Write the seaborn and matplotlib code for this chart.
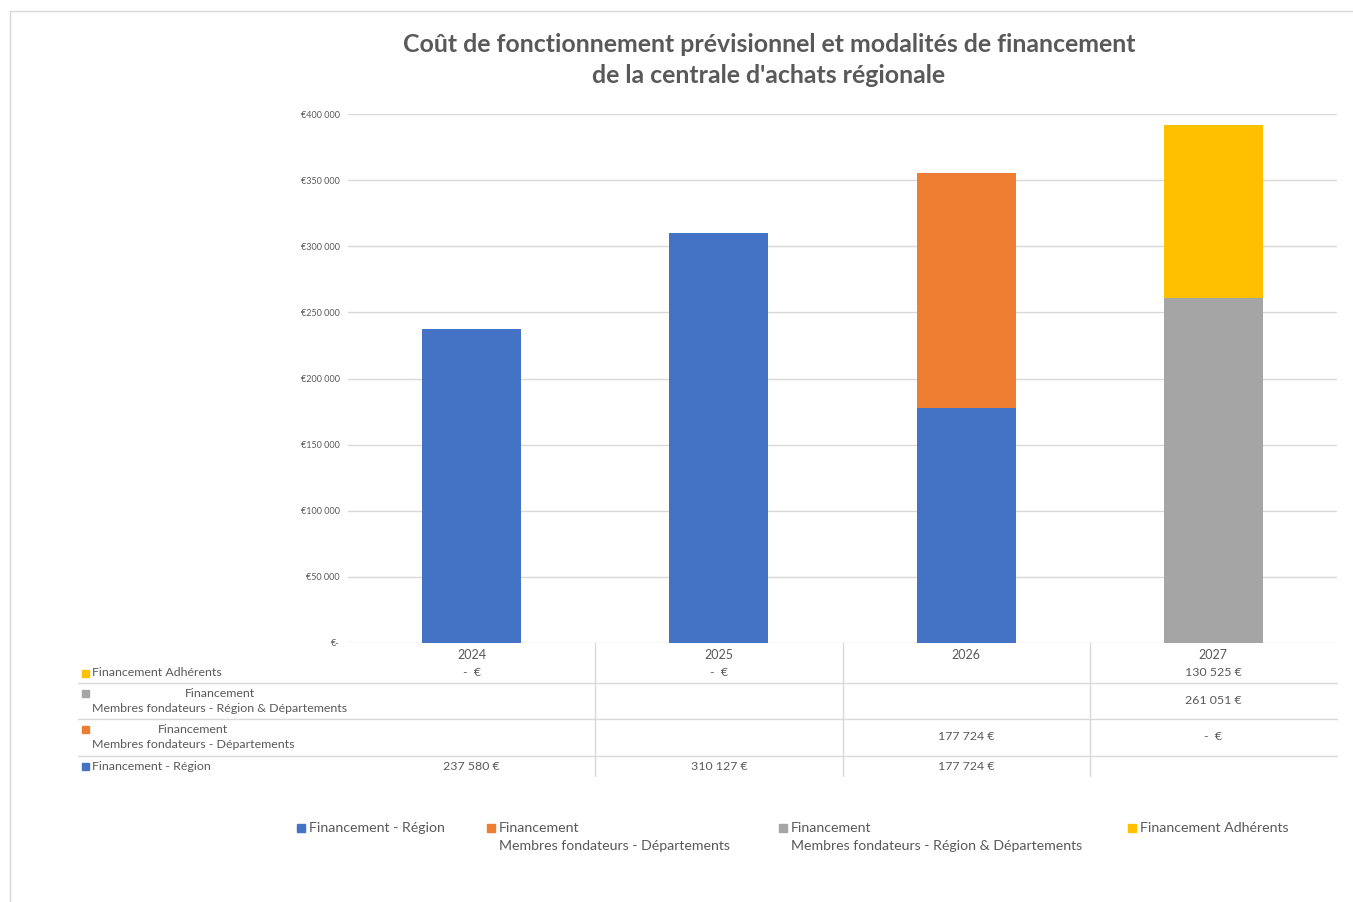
import matplotlib
matplotlib.use('Agg')
import matplotlib.pyplot as plt
import seaborn as sns
import numpy as np
import pandas as pd
from matplotlib.ticker import FuncFormatter
from matplotlib.transforms import blended_transform_factory
from matplotlib.patches import Rectangle
from matplotlib.lines import Line2D

# Data (None = empty cell in the data table, 0 = "-  €")
years = ['2024', '2025', '2026', '2027']
region = [237580, 310127, 177724, None]
departements = [None, None, 177724, 0]
fondateurs = [None, None, None, 261051]
adherents = [0, 0, None, 130525]

series_labels = ['Financement - Région',
                 'Financement\nMembres fondateurs - Départements',
                 'Financement\nMembres fondateurs - Région & Départements',
                 'Financement Adhérents']
series_values = [region, departements, fondateurs, adherents]
colors = ['#4472C4', '#ED7D31', '#A5A5A5', '#FFC000']

sns.set_style('white')
plt.rcParams['font.family'] = ['Lato', 'DejaVu Sans']
text_color = '#595959'
line_color = '#d9d9d9'

W, H = 1353, 902
fig = plt.figure(figsize=(W / 100, H / 100), dpi=100)
ax = fig.add_axes([348 / W, 1 - 643 / H, (1337 - 348) / W, (643 - 114) / H])

# stacked bars: draw cumulative totals from top layer down
df = pd.DataFrame({lab: [v or 0 for v in vals] for lab, vals in zip(series_labels, series_values)}, index=years)
cum = df.cumsum(axis=1)
for lab, col in reversed(list(zip(series_labels, colors))):
    sns.barplot(x=years, y=cum[lab].values, color=col, width=0.4, saturation=1, linewidth=0, ax=ax)

ax.set_xlim(-0.5, 3.5)
ax.set_ylim(0, 400000)
ax.set_yticks(np.arange(0, 400001, 50000))


def euro(x, pos):
    if x == 0:
        return '€-'
    return '€' + f'{int(x):,}'.replace(',', ' ')


ax.yaxis.set_major_formatter(FuncFormatter(euro))
ax.tick_params(axis='y', length=0, pad=6, labelsize=6.5, labelcolor=text_color)
ax.tick_params(axis='x', length=0, pad=4, labelsize=9, labelcolor=text_color)
ax.yaxis.grid(True, color=line_color, lw=1)
ax.set_axisbelow(True)
for s in ax.spines.values():
    s.set_visible(False)
ax.set_xlabel('')
ax.set_ylabel('')

# Title
fig.text(769 / W, 1 - 60 / H,
         "Coût de fonctionnement prévisionnel et modalités de financement\nde la centrale d'achats régionale",
         ha='center', va='center', fontsize=17.9, fontweight='bold', color=text_color, linespacing=1.45)

# Data table below the axis
tr = blended_transform_factory(ax.transData, fig.transFigure)


def fy(p):
    return 1 - p / H


def fmt_cell(v):
    if v is None:
        return ''
    if v == 0:
        return '-  €'
    return f'{v:,}'.replace(',', ' ') + ' €'


# rows from top: adherents, fondateurs, departements, region
row_order = [3, 2, 1, 0]
row_centers = [673, 701, 737, 766]
first_line = [673, 693, 729, 766]
for idx, yc, y1 in zip(row_order, row_centers, first_line):
    fig.patches.append(Rectangle((82 / W, fy(y1 + 4)), 7 / W, 7 / H, color=colors[idx],
                                 transform=fig.transFigure, figure=fig))
    fig.text(92 / W, fy(yc), series_labels[idx], ha='left', va='center', multialignment='center',
             fontsize=8.9, color=text_color, linespacing=1.5)
    for i, v in enumerate(series_values[idx]):
        fig.text(i, fy(yc), fmt_cell(v), transform=tr, ha='center', va='center',
                 fontsize=8.9, color=text_color)

for yp in [683, 719, 756]:
    fig.add_artist(Line2D([78 / W, 1337 / W], [fy(yp), fy(yp)], color=line_color, lw=1))
for xb in [0.5, 1.5, 2.5]:
    fig.add_artist(Line2D([xb, xb], [fy(643), fy(776)], transform=tr, color=line_color, lw=1))

# Legend (bottom)
leg_x = [297, 487, 779, 1128]
for idx, lx in enumerate(leg_x):
    fig.patches.append(Rectangle((lx / W, fy(832)), 8 / W, 8 / H, color=colors[idx],
                                 transform=fig.transFigure, figure=fig))
    fig.text((lx + 12) / W, fy(822), series_labels[idx], ha='left', va='top',
             fontsize=10.2, color=text_color, linespacing=1.6)

# chart area border
fig.add_artist(Line2D([10 / W, 1], [fy(11), fy(11)], color=line_color, lw=1))
fig.add_artist(Line2D([10 / W, 10 / W], [fy(11), 0], color=line_color, lw=1))

plt.savefig('out.png', dpi=100)
